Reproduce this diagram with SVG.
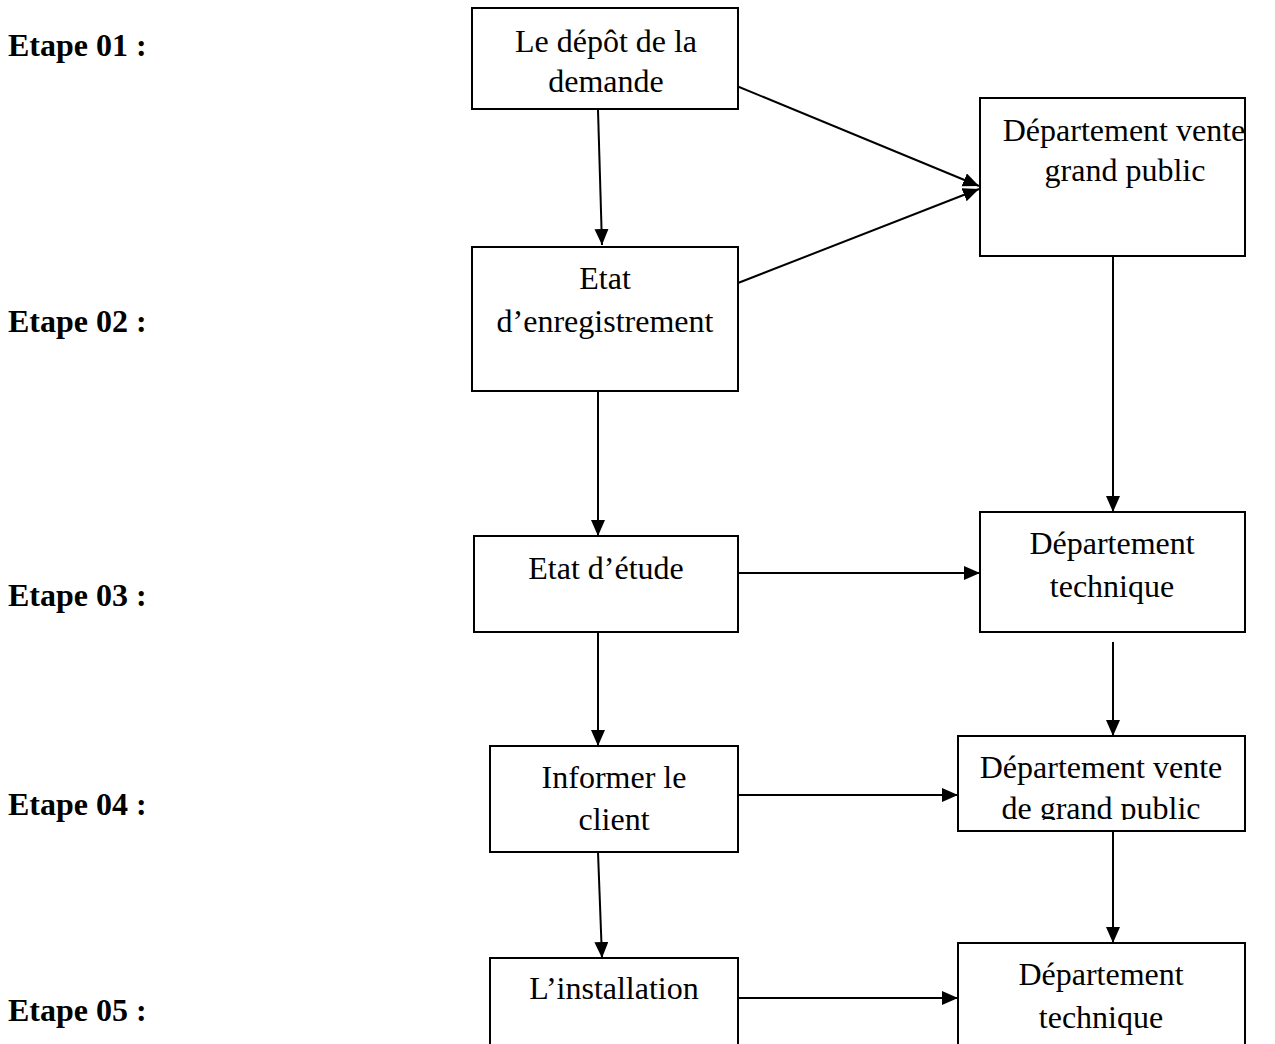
<svg xmlns="http://www.w3.org/2000/svg" width="1275" height="1044" viewBox="0 0 1275 1044">
<defs>
<marker id="ah" markerUnits="userSpaceOnUse" markerWidth="18" markerHeight="16" refX="16" refY="7" orient="auto">
<path d="M0,0 L16,7 L0,14 Z" fill="#000"/>
</marker>
<clipPath id="c7"><rect x="958" y="736" width="287" height="84"/></clipPath>
</defs>
<style>
.box{fill:#fff;stroke:#000;stroke-width:2}
.t{font-family:"Liberation Serif","Times New Roman",serif;font-size:32px;text-anchor:middle;fill:#000}
.lbl{font-family:"Liberation Serif","Times New Roman",serif;font-size:32px;font-weight:bold;fill:#000}
.c{stroke:#000;stroke-width:2;fill:none;marker-end:url(#ah)}
</style>
<rect width="1275" height="1044" fill="#fff"/>
<g id="labels">
<text class="lbl" x="8" y="56">Etape 01 :</text>
<text class="lbl" x="8" y="332">Etape 02 :</text>
<text class="lbl" x="8" y="606">Etape 03 :</text>
<text class="lbl" x="8" y="815">Etape 04 :</text>
<text class="lbl" x="8" y="1021">Etape 05 :</text>
</g>
<g id="connectors">
<line class="c" x1="598" y1="110" x2="602" y2="245"/>
<line class="c" x1="727" y1="82" x2="979" y2="186"/>
<line class="c" x1="738" y1="283" x2="979" y2="189"/>
<line class="c" x1="1113" y1="256" x2="1113" y2="512"/>
<line class="c" x1="598" y1="391" x2="598" y2="536"/>
<line class="c" x1="738" y1="573" x2="980" y2="573"/>
<line class="c" x1="1113" y1="642" x2="1113" y2="736"/>
<line class="c" x1="598" y1="632" x2="598" y2="746"/>
<line class="c" x1="738" y1="795" x2="958" y2="795"/>
<line class="c" x1="598" y1="852" x2="602" y2="958"/>
<line class="c" x1="1113" y1="831" x2="1113" y2="943"/>
<line class="c" x1="738" y1="998" x2="958" y2="998"/>
</g>
<g id="n1"><rect class="box" x="472" y="8" width="266" height="101"/>
<text class="t" x="606" y="52">Le dépôt de la</text><text class="t" x="606" y="92">demande</text></g>
<g id="n2"><rect class="box" x="980" y="98" width="265" height="158"/>
<text class="t" x="1124" y="141">Département vente</text><text class="t" x="1125" y="181">grand public</text></g>
<g id="n3"><rect class="box" x="472" y="247" width="266" height="144"/>
<text class="t" x="605" y="289">Etat</text><text class="t" x="605" y="332">d’enregistrement</text></g>
<g id="n4"><rect class="box" x="474" y="536" width="264" height="96"/>
<text class="t" x="606" y="579">Etat d’étude</text></g>
<g id="n5"><rect class="box" x="980" y="512" width="265" height="120"/>
<text class="t" x="1112" y="554">Département</text><text class="t" x="1112" y="597">technique</text></g>
<g id="n6"><rect class="box" x="490" y="746" width="248" height="106"/>
<text class="t" x="614" y="788">Informer le</text><text class="t" x="614" y="830">client</text></g>
<g id="n7"><rect class="box" x="958" y="736" width="287" height="95"/>
<text class="t" x="1101" y="778">Département vente</text><text class="t" x="1101" y="819" clip-path="url(#c7)">de grand public</text></g>
<g id="n8"><rect class="box" x="490" y="958" width="248" height="100"/>
<text class="t" x="614" y="999">L’installation</text></g>
<g id="n9"><rect class="box" x="958" y="943" width="287" height="115"/>
<text class="t" x="1101" y="985">Département</text><text class="t" x="1101" y="1028">technique</text></g>
</svg>
